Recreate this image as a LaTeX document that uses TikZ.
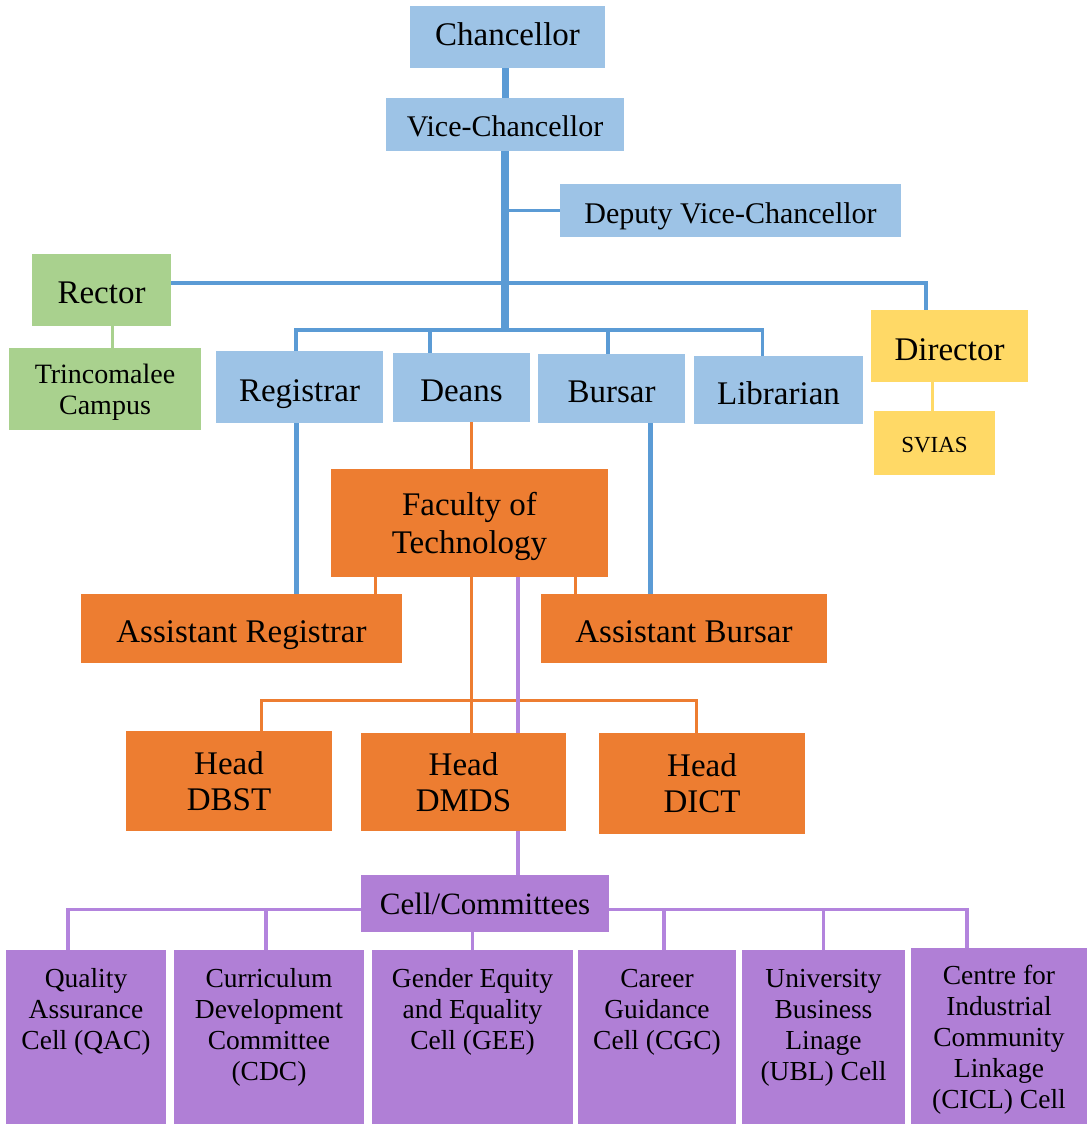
\documentclass[tikz,border=0pt]{standalone}
\usepackage{fontspec}
\setmainfont{Liberation Serif}
\definecolor{bbox}{HTML}{9DC3E6}
\definecolor{bline}{HTML}{5B9BD5}
\definecolor{gbox}{HTML}{A9D18E}
\definecolor{ybox}{HTML}{FFD966}
\definecolor{obox}{HTML}{ED7D31}
\definecolor{pbox}{HTML}{B07FD6}
\definecolor{pline}{HTML}{B384DD}
\tikzset{
  box/.style={inner sep=0pt, align=center, text=black, draw=none},
  bluebox/.style={box, fill=bbox},
  greenbox/.style={box, fill=gbox},
  yellowbox/.style={box, fill=ybox},
  orangebox/.style={box, fill=obox},
  purplebox/.style={box, fill=pbox},
  f/.style 2 args={font=\fontsize{#1}{#2}\selectfont},
  sz/.style 2 args={minimum width=#1pt, minimum height=#2pt},
  th/.style={text height=#1pt, text depth=0pt},
  blueline/.style={draw=bline, line width=3.5pt},
  greenline/.style={draw=gbox, line width=3pt},
  yellowline/.style={draw=ybox, line width=3pt},
  orangeline/.style={draw=obox, line width=3pt},
  purpleline/.style={draw=pline, line width=3.5pt},
  celltext/.style={inner sep=0pt, align=center, anchor=north, f={27.5}{31}},
}
\begin{document}
\begin{tikzpicture}[x=1pt, y=-1pt]
\useasboundingbox (0,0) rectangle (1088,1124);
% boxes
\node[bluebox, sz={195}{62}, f={33}{38}, th=18] (chan) at (507.5,37) {Chancellor};
\node[bluebox, sz={238}{53}, f={30}{34}, th=24] (vc) at (505,124.5) {Vice-Chancellor};
\node[bluebox, sz={341}{53}, f={30}{34}, th=26] (dvc) at (730.5,210.5) {Deputy Vice-Chancellor};
\node[greenbox, sz={139}{72}, f={33}{38}, th=26] (rector) at (101.5,290) {Rector};
\node[greenbox, sz={192}{82}, f={28}{31}, text depth=-6pt] (trinc) at (105,389) {Trincomalee\\Campus};
\node[bluebox, sz={167}{72}, f={33}{38}, th=28] (reg) at (299.5,387) {Registrar};
\node[bluebox, sz={137}{69}, f={33}{38}, th=28] (deans) at (461.5,387.5) {Deans};
\node[bluebox, sz={147}{69}, f={33}{38}, th=28] (bursar) at (611.5,388.5) {Bursar};
\node[bluebox, sz={169}{68}, f={33}{38}, th=28] (lib) at (778.5,390) {Librarian};
\node[yellowbox, sz={157}{72}, f={33}{38}, th=28] (dir) at (949.5,346) {Director};
\node[yellowbox, sz={121}{64}, f={23}{27}, th=18] (svias) at (934.5,443) {SVIAS};
\node[orangebox, sz={277}{108}, f={33}{38}, text depth=-6pt] (fac) at (469.5,523) {Faculty of\\Technology};
\node[orangebox, sz={321}{69}, f={33}{38}, th=28] (areg) at (241.5,628.5) {Assistant Registrar};
\node[orangebox, sz={286}{69}, f={33}{38}, th=28] (abur) at (684,628.5) {Assistant Bursar};
\node[orangebox, sz={206}{100}, f={33}{36}, text depth=-4pt] (dbst) at (229,781) {Head\\DBST};
\node[orangebox, sz={205}{98}, f={33}{36}, text depth=-5pt] (dmds) at (463.5,782) {Head\\DMDS};
\node[orangebox, sz={206}{101}, f={33}{36}, text depth=-5pt] (dict) at (702,783.5) {Head\\DICT};
\node[purplebox, sz={248}{57}, f={31}{35}] (cell) at (485,903.5) {Cell/Committees};
\node[purplebox, sz={160}{174}] (qac) at (86,1037) {};
\node[purplebox, sz={190}{174}] (cdc) at (269,1037) {};
\node[purplebox, sz={201}{174}] (gee) at (472.5,1037) {};
\node[purplebox, sz={158}{174}] (cgc) at (657,1037) {};
\node[purplebox, sz={163}{174}] (ubl) at (823.5,1037) {};
\node[purplebox, sz={176}{176}] (cicl) at (999,1036) {};
% cell texts
\node[celltext] (tqac) at ([yshift=-16pt]qac.north) {\strut Quality\\Assurance\\Cell (QAC)};
\node[celltext] (tcdc) at ([yshift=-16pt]cdc.north) {\strut Curriculum\\Development\\Committee\\(CDC)};
\node[celltext] (tgee) at ([yshift=-16pt]gee.north) {\strut Gender Equity\\and Equality\\Cell (GEE)};
\node[celltext] (tcgc) at ([yshift=-16pt]cgc.north) {\strut Career\\Guidance\\Cell (CGC)};
\node[celltext] (tubl) at ([yshift=-16pt]ubl.north) {\strut University\\Business\\Linage\\(UBL) Cell};
\node[celltext] (tcicl) at ([yshift=-15pt]cicl.north) {\strut Centre for\\Industrial\\Community\\Linkage\\(CICL) Cell};
% coordinates
\coordinate (spine) at (505,330);
\coordinate (rj) at (926,283);
\coordinate (dreg) at ([xshift=-3.5pt]reg.north);
\coordinate (dlib) at ([xshift=-16pt]lib.north);
\coordinate (ddeans) at ([xshift=-31.5pt]deans.north);
\coordinate (dbur) at ([xshift=-3.5pt]bursar.north);
\coordinate (rdrop) at ([xshift=10.5pt]rector.south);
\coordinate (sdrop) at ([xshift=-2.5pt]svias.north);
\coordinate (regdown) at ([xshift=-3.5pt]reg.south);
\coordinate (burdown) at ([xshift=38.5pt]bursar.south);
\coordinate (facup) at ([xshift=1.5pt]fac.north);
\coordinate (facar) at ([xshift=-94.5pt]fac.south);
\coordinate (facab) at ([xshift=106pt]fac.south);
\coordinate (facdown) at ([xshift=1.5pt]fac.south);
\coordinate (hbar) at (471,700);
\coordinate (ddbst) at ([xshift=32pt]dbst.north);
\coordinate (ddict) at ([xshift=-6pt]dict.north);
\coordinate (pfac) at ([xshift=48.5pt]fac.south);
\coordinate (pdmds) at ([xshift=54.5pt]dmds.south);
\coordinate (cl) at ([yshift=-6pt]cell.west);
\coordinate (cr) at ([yshift=-6pt]cell.east);
\coordinate (dqac) at ([xshift=-18pt]qac.north);
\coordinate (dcdc) at ([xshift=-3pt]cdc.north);
\coordinate (dcgc) at ([xshift=7pt]cgc.north);
\coordinate (dubl) at (ubl.north);
\coordinate (dcicl) at ([xshift=-32pt]cicl.north);
% blue connectors
\draw[blueline] (dvc.west) -- (dvc.west -| spine);
\draw[blueline] ([yshift=7pt]rector.east) -- (rj) -- (rj |- dir.north);
\draw[blueline] (dreg) |- (spine) -| (dlib);
\draw[blueline] (ddeans) -- (ddeans |- spine);
\draw[blueline] (dbur) -- (dbur |- spine);
\draw[blueline, line width=7pt] (vc.north) -- (vc.north |- chan.south);
\draw[blueline, line width=7.5pt] (vc.south) -- ([yshift=1.75pt]spine);
\draw[blueline, line width=5pt] (regdown) -- (regdown |- areg.north);
\draw[blueline, line width=5pt] (burdown) -- (burdown |- abur.north);
% green / yellow
\draw[greenline] (rdrop) -- (rdrop |- trinc.north);
\draw[yellowline] (sdrop) -- (sdrop |- dir.south);
% orange
\draw[orangeline] (facup) -- (facup |- deans.south);
\draw[orangeline] (facar) -- (facar |- areg.north);
\draw[orangeline] (facab) -- (facab |- abur.north);
\draw[orangeline] (facdown) -- (facdown |- dmds.north);
\draw[orangeline] (ddbst) |- (hbar) -| (ddict);
% purple
\draw[purpleline] (pfac) -- (pfac |- dmds.north);
\draw[purpleline] (pdmds) -- (pdmds |- cell.north);
\draw[purpleline] (dqac) |- (cl);
\draw[purpleline] (dcdc) -- (dcdc |- cl);
\draw[purpleline] (gee.north) -- (gee.north |- cell.south);
\draw[purpleline] (cr) -| (dcicl);
\draw[purpleline] (dcgc) -- (dcgc |- cr);
\draw[purpleline] (dubl) -- (dubl |- cr);
\end{tikzpicture}
\end{document}
